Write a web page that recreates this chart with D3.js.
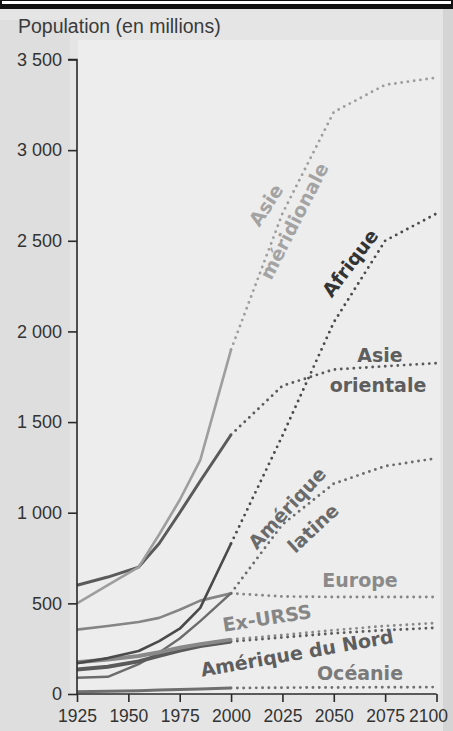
<!DOCTYPE html>
<html>
<head>
<meta charset="utf-8">
<script src="https://cdn.jsdelivr.net/npm/d3@7"></script>
<style>
body { margin: 0; background: #e6e6e6; }
svg { display: block; }
</style>
</head>
<body>
<div id="Chart"></div>
<script>
var w = 453;
var h = 731;

// years on the x axis (solid = observed, dotted = projection)
var histYears = [1925, 1940, 1955, 1965, 1975, 1985, 2000];
var projYears = [2000, 2025, 2050, 2075, 2100];

// population in millions
var asieMerHist = [500, 600, 700, 880, 1070, 1290, 1900];
var asieMerProj = [1900, 2650, 3210, 3360, 3400];
var asieOrHist = [600, 645, 700, 830, 1000, 1175, 1430];
var asieOrProj = [1430, 1700, 1790, 1808, 1825];
var afriqueHist = [170, 198, 237, 292, 360, 475, 830];
var afriqueProj = [830, 1425, 2050, 2500, 2650];
var amLatHist = [90, 95, 165, 229, 306, 402, 556];
var amLatProj = [556, 935, 1160, 1257, 1300];
var europeHist = [355, 375, 397, 420, 465, 515, 555];
var europeProj = [555, 538, 535, 535, 535];
var exUrssHist = [175, 190, 210, 230, 255, 275, 300];
var exUrssProj = [300, 325, 352, 375, 392];
var amNordHist = [135, 150, 180, 210, 240, 265, 290];
var amNordProj = [290, 312, 335, 352, 365];
var oceanieHist = [12, 15, 18, 22, 25, 28, 33];
var oceanieProj = [33, 35, 36, 37, 38];

var yTicks = [0, 500, 1000, 1500, 2000, 2500, 3000, 3500];
var xTicks = [1925, 1950, 1975, 2000, 2025, 2050, 2075, 2100];

var yTitle = "Population (en millions)";


function doChart()
{
    var svg = d3.select("#Chart").append("svg")
        .attr("width", w)
        .attr("height", h)

    var x = d3.scaleLinear().domain([1925, 2100]).range([77, 436.5]);
    var y = d3.scaleLinear().domain([0, 3500]).range([694, 59.5]);

    // paper background + black frame on top
    svg.append("rect").attr("width", w).attr("height", h).attr("fill", "#e5e5e5")
    svg.append("rect").attr("x", 0).attr("y", 20).attr("width", 70).attr("height", h - 20).attr("fill", "#dedede")
    svg.append("rect").attr("x", 78).attr("y", 40).attr("width", 362).attr("height", 654).attr("fill", "#ededed")
    svg.append("rect").attr("x", 443).attr("y", 9).attr("width", 10).attr("height", h).attr("fill", "#d4d4d4")
    svg.append("rect").attr("width", w).attr("height", 9).attr("fill", "#111")
    svg.append("rect").attr("x", 2).attr("y", 1).attr("width", w - 4).attr("height", 3).attr("fill", "#fff")

    var series = [
        {hist: oceanieHist, proj: oceanieProj, color: "#6f6f6f", sw: 3},
        {hist: europeHist, proj: europeProj, color: "#858585", sw: 2.6},
        {hist: amLatHist, proj: amLatProj, color: "#6c6c6c", sw: 2.4},
        {hist: amNordHist, proj: amNordProj, color: "#5a5a5a", sw: 4},
        {hist: exUrssHist, proj: exUrssProj, color: "#888", sw: 4},
        {hist: afriqueHist, proj: afriqueProj, color: "#4a4a4a", sw: 2.6},
        {hist: asieOrHist, proj: asieOrProj, color: "#5a5a5a", sw: 3},
        {hist: asieMerHist, proj: asieMerProj, color: "#9e9e9e", sw: 2.6}
    ];

    var line = d3.line()
        .x(function(d){ return x(d[0]); })
        .y(function(d){ return y(d[1]); });

    var g = svg.append("g").attr("class", "lines");

    g.selectAll("path.proj")
        .data(series)
        .enter()
        .append("path")
        .attr("class", "proj")
        .attr("d", function(d){
            return line(projYears.map(function(yr, i){ return [yr, d.proj[i]]; }));
        })
        .attr("fill", "none")
        .attr("stroke", function(d){ return d.color; })
        .attr("stroke-width", 2.9)
        .attr("stroke-linecap", "round")
        .attr("stroke-dasharray", "0 6.3")

    g.selectAll("path.hist")
        .data(series)
        .enter()
        .append("path")
        .attr("class", "hist")
        .attr("d", function(d){
            return line(histYears.map(function(yr, i){ return [yr, d.hist[i]]; }));
        })
        .attr("fill", "none")
        .attr("stroke", function(d){ return d.color; })
        .attr("stroke-width", function(d){ return d.sw; })
        .attr("stroke-linejoin", "round")

    // axes
    var yAxis = d3.axisLeft(y)
        .tickValues(yTicks)
        .tickSize(9)
        .tickPadding(6)
        .tickFormat(function(d){
            if (d < 1000) return d;
            return Math.floor(d / 1000) + " " + String(d % 1000).padStart(3, "0");
        });

    var xAxis = d3.axisBottom(x)
        .tickValues(xTicks)
        .tickSize(8)
        .tickPadding(6)
        .tickFormat(d3.format("d"));

    var ya = svg.append("g")
        .attr("transform", "translate(77,0)")
        .call(yAxis)
    ya.select(".domain").attr("d", "M-9," + y(3500) + "H0V" + y(0))

    var xa = svg.append("g")
        .attr("transform", "translate(0,694)")
        .call(xAxis)
    xa.select(".domain").attr("d", "M" + x(1925) + ",0H" + x(2100))

    svg.selectAll(".tick line, .domain")
        .attr("stroke", "#2a2a2a")
        .attr("stroke-width", 1.6)
    svg.selectAll(".tick text")
        .attr("fill", "#333")
        .style("font-family", "'Liberation Sans', Arial, sans-serif")
        .style("font-size", "18px")
    xa.selectAll(".tick text").style("font-size", "17.5px").attr("dy", "0.78em")
    // last year label pulled in so it stays inside the page
    xa.selectAll(".tick text")
        .filter(function(d){ return d === 2100; })
        .attr("text-anchor", "end")
        .attr("x", 11)

    svg.append("text")
        .text(yTitle)
        .attr("x", 18)
        .attr("y", 33)
        .attr("fill", "#3a3a3a")
        .style("font-family", "'Liberation Sans', Arial, sans-serif")
        .style("font-size", "19.5px")

    // series labels
    var labels = [
        {t: "Asie", x: 266, y: 205, r: -57, c: "#a3a3a3"},
        {t: "méridionale", x: 294, y: 221, r: -63, c: "#a3a3a3"},
        {t: "Afrique", x: 350, y: 263, r: -53, c: "#333"},
        {t: "Asie", x: 380, y: 355, r: 0, c: "#5e5e5e"},
        {t: "orientale", x: 378, y: 385, r: 0, c: "#5e5e5e"},
        {t: "Amérique", x: 287, y: 508, r: -47, c: "#6a6a6a"},
        {t: "latine", x: 313, y: 528, r: -43, c: "#6a6a6a"},
        {t: "Europe", x: 360, y: 580, r: 0, c: "#8a8a8a"},
        {t: "Ex-URSS", x: 267, y: 618, r: -9, c: "#868686"},
        {t: "Amérique du Nord", x: 297, y: 653, r: -10, c: "#5e5e5e"},
        {t: "Océanie", x: 360, y: 673, r: 0, c: "#7a7a7a"}
    ];

    svg.append("g").attr("class", "labels")
        .selectAll("text")
        .data(labels)
        .enter()
        .append("text")
        .text(function(d){ return d.t; })
        .attr("transform", function(d){
            return "translate(" + d.x + "," + d.y + ") rotate(" + d.r + ")";
        })
        .attr("text-anchor", "middle")
        .attr("dy", "0.36em")
        .attr("fill", function(d){ return d.c; })
        .style("font-family", "'DejaVu Sans', sans-serif")
        .style("font-weight", "bold")
        .style("font-size", "19px")
}

doChart();
</script>
</body>
</html>
